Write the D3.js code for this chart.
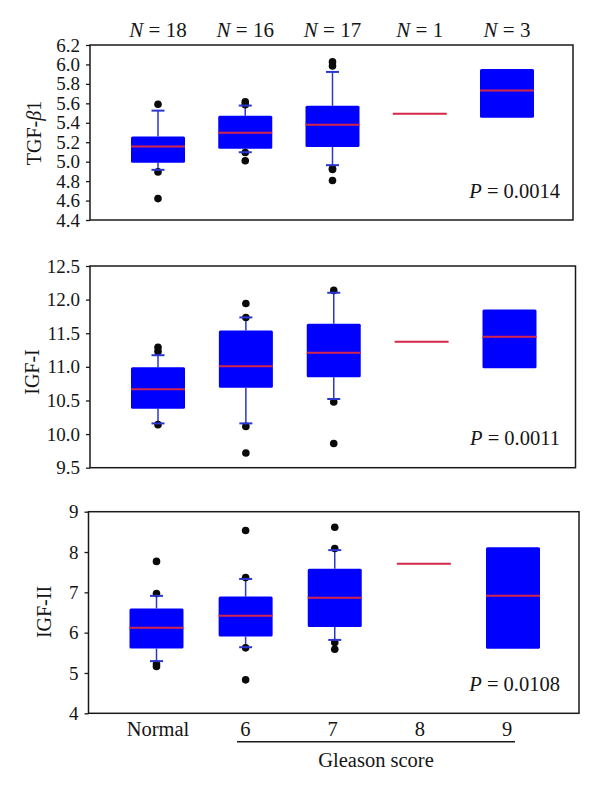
<!DOCTYPE html>
<html><head><meta charset="utf-8">
<script src="https://cdn.jsdelivr.net/npm/d3@7"></script>
<style>
body{margin:0;background:#fff}
svg{display:block}
text{font-family:"Liberation Serif","Times New Roman",serif;fill:#151515}
</style>
</head><body>
<svg id="chart" width="600" height="794"></svg>
<script>
// ---------- data ----------
const categories = ["Normal", "6", "7", "8", "9"];
const nCounts = [18, 16, 17, 1, 3];
const pValues = ["0.0014", "0.0011", "0.0108"];

// TGF-beta1
const tgfTicks = [4.4, 4.6, 4.8, 5.0, 5.2, 5.4, 5.6, 5.8, 6.0, 6.2];
const tgfQ1  = [4.99, 5.132, 5.152, null, 5.452];
const tgfMed = [5.155, 5.297, 5.38, 5.493, 5.732];
const tgfQ3  = [5.26, 5.472, 5.575, null, 5.954];
const tgfLo  = [4.916, 5.097, 4.964, null, null];
const tgfHi  = [5.525, 5.577, 5.923, null, null];
const tgfOut = [[5.59, 4.895, 4.62], [5.615, 5.585, 5.095, 5.01], [6.026, 5.985, 4.93, 4.92, 4.807], [], []];

// IGF-I
const igf1Ticks = [9.5, 10.0, 10.5, 11.0, 11.5, 12.0, 12.5];
const igf1Q1  = [10.378, 10.691, 10.845, null, 10.979];
const igf1Med = [10.666, 11.009, 11.208, 11.372, 11.446];
const igf1Q3  = [10.994, 11.541, 11.64, null, 11.854];
const igf1Lo  = [10.159, 10.159, 10.522, null, null];
const igf1Hi  = [11.173, 11.735, 12.102, null, null];
const igf1Out = [[11.29, 11.23, 10.14], [11.943, 11.735, 10.114, 9.718], [12.137, 10.477, 9.861], [], []];

// IGF-II
const igf2Ticks = [4, 5, 6, 7, 8, 9];
const igf2Q1  = [5.606, 5.902, 6.14, null, 5.6];
const igf2Med = [6.124, 6.42, 6.864, 7.71, 6.913];
const igf2Q3  = [6.601, 6.896, 7.587, null, 8.121];
const igf2Lo  = [5.294, 5.639, 5.82, null, null];
const igf2Hi  = [6.913, 7.332, 8.047, null, null];
const igf2Out = [[7.767, 6.97, 5.22, 5.16], [8.532, 7.365, 5.623, 4.83], [8.614, 8.088, 5.754, 5.59], [], []];

// ---------- layout ----------
const svg = d3.select("#chart");
const panels = [
  {left: 90, right: 573, top: 45, bottom: 220, ticks: tgfTicks, fmt: d3.format(".1f"),
   q1: tgfQ1, med: tgfMed, q3: tgfQ3, lo: tgfLo, hi: tgfHi, out: tgfOut,
   title: "tgf", titleX: 34, titleY: 133, p: pValues[0]},
  {left: 90, right: 575.5, top: 266, bottom: 467.7, ticks: igf1Ticks, fmt: d3.format(".1f"),
   q1: igf1Q1, med: igf1Med, q3: igf1Q3, lo: igf1Lo, hi: igf1Hi, out: igf1Out,
   title: "IGF-I", titleX: 32, titleY: 372, p: pValues[1]},
  {left: 88.5, right: 579, top: 511.7, bottom: 713.3, ticks: igf2Ticks, fmt: d3.format("d"),
   q1: igf2Q1, med: igf2Med, q3: igf2Q3, lo: igf2Lo, hi: igf2Hi, out: igf2Out,
   title: "IGF-II", titleX: 44, titleY: 612, p: pValues[2]}
];

const BOX_W = 54, CAP_W = 13;
const BLUE = "#0000ff", WHISK = "#2a36d0", RED = "#d4264a";

panels.forEach((cfg) => {
  const g = svg.append("g");
  const x = d3.scalePoint().domain(categories).range([cfg.left + 68, cfg.right - 66]);
  const y = d3.scaleLinear().domain([cfg.ticks[0], cfg.ticks[cfg.ticks.length - 1]]).range([cfg.bottom, cfg.top]);
  cfg.x = x;

  categories.forEach((c, i) => {
    const cx = x(c);
    const cg = g.append("g");
    if (cfg.lo[i] != null) {
      cg.append("line").attr("x1", cx).attr("x2", cx).attr("y1", y(cfg.hi[i])).attr("y2", y(cfg.q3[i]))
        .attr("stroke", WHISK).attr("stroke-width", 1.5);
      cg.append("line").attr("x1", cx).attr("x2", cx).attr("y1", y(cfg.lo[i])).attr("y2", y(cfg.q1[i]))
        .attr("stroke", WHISK).attr("stroke-width", 1.5);
    }
    if (cfg.q1[i] != null) {
      cg.append("rect").attr("x", cx - BOX_W / 2).attr("width", BOX_W)
        .attr("y", y(cfg.q3[i])).attr("height", y(cfg.q1[i]) - y(cfg.q3[i]))
        .attr("fill", BLUE).attr("rx", 1.5);
    }
    cfg.out[i].forEach(v => {
      cg.append("circle").attr("cx", cx).attr("cy", y(v)).attr("r", 3.8).attr("fill", "#0a0a0a");
    });
    if (cfg.lo[i] != null) {
      [cfg.lo[i], cfg.hi[i]].forEach(v => {
        cg.append("line").attr("x1", cx - CAP_W / 2).attr("x2", cx + CAP_W / 2).attr("y1", y(v)).attr("y2", y(v))
          .attr("stroke", WHISK).attr("stroke-width", 2);
      });
    }
    cg.append("line").attr("x1", cx - BOX_W / 2).attr("x2", cx + BOX_W / 2)
      .attr("y1", y(cfg.med[i])).attr("y2", y(cfg.med[i]))
      .attr("stroke", RED).attr("stroke-width", 2);
  });

  g.append("rect").attr("x", cfg.left).attr("y", cfg.top)
    .attr("width", cfg.right - cfg.left).attr("height", cfg.bottom - cfg.top)
    .attr("fill", "none").attr("stroke", "#1a1a1a").attr("stroke-width", 1.5);

  const ax = g.append("g").attr("transform", `translate(${cfg.left},0)`)
    .call(d3.axisLeft(y).tickValues(cfg.ticks).tickFormat(cfg.fmt).tickSize(4).tickPadding(6));
  ax.attr("font-family", null).attr("font-size", null);
  ax.select(".domain").remove();
  ax.selectAll(".tick line").attr("stroke", "#1a1a1a").attr("stroke-width", 1.3);
  ax.selectAll(".tick text").attr("font-size", 19).attr("fill", "#151515");

  const t = g.append("text").attr("transform", `translate(${cfg.titleX},${cfg.titleY}) rotate(-90)`)
    .attr("text-anchor", "middle").attr("dominant-baseline", "central").attr("font-size", 20);
  if (cfg.title === "tgf") {
    t.append("tspan").text("TGF-");
    t.append("tspan").attr("font-style", "italic").text("\u03B2");
    t.append("tspan").text("1");
  } else {
    t.text(cfg.title);
  }

  const pt = g.append("text").attr("x", 560).attr("y", cfg.bottom - 22.5)
    .attr("text-anchor", "end").attr("font-size", 20.5);
  pt.append("tspan").attr("font-style", "italic").text("P");
  pt.append("tspan").text(" = " + cfg.p);
});

const xTop = panels[0].x;
categories.forEach((c, i) => {
  const t = svg.append("text").attr("x", xTop(c)).attr("y", 36.5)
    .attr("text-anchor", "middle").attr("font-size", 21);
  t.append("tspan").attr("font-style", "italic").text("N");
  t.append("tspan").text(" = " + nCounts[i]);
});

const xLab = d3.scalePoint().domain(categories).range([158, 507]);
svg.append("g").selectAll("text").data(categories).join("text")
  .attr("x", d => xLab(d)).attr("y", 736)
  .attr("text-anchor", "middle").attr("font-size", 20.5).text(d => d);

svg.append("line").attr("x1", 237).attr("x2", 515).attr("y1", 741.7).attr("y2", 741.7)
  .attr("stroke", "#1a1a1a").attr("stroke-width", 1.4);
svg.append("text").attr("x", 376).attr("y", 766.5).attr("text-anchor", "middle")
  .attr("font-size", 20.5).text("Gleason score");
</script>
</body></html>
